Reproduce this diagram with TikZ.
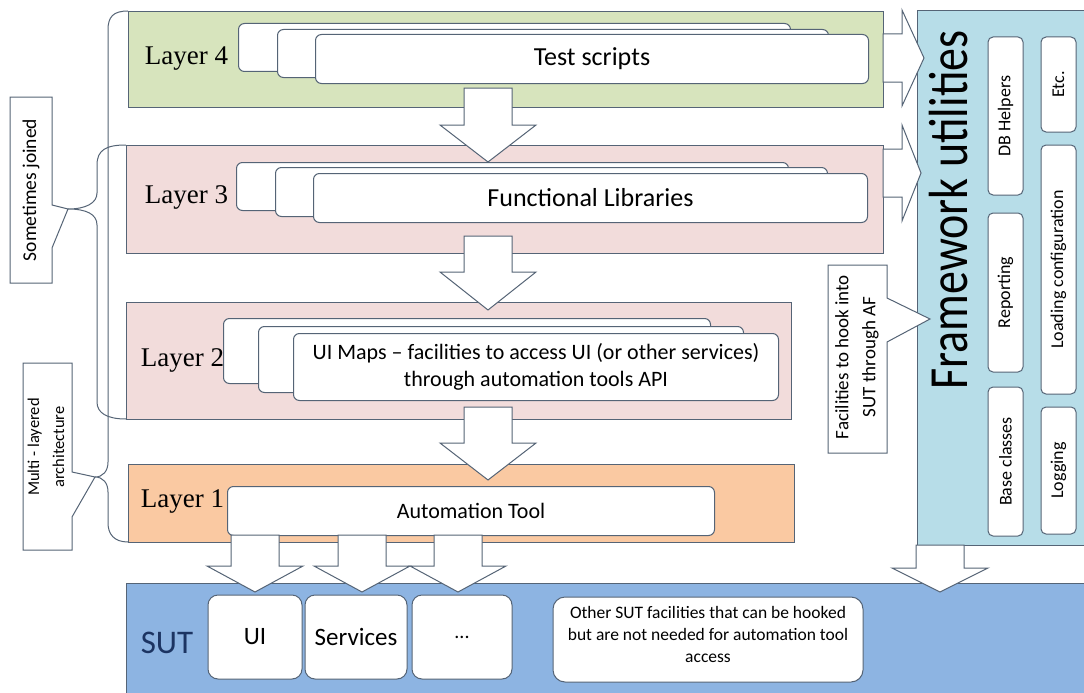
\documentclass[tikz,border=0pt]{standalone}
\usepackage{fontspec}
\setmainfont{Carlito}
\newfontfamily\layerfont{Liberation Serif}
\usepackage{graphicx}
\usetikzlibrary{positioning}

\definecolor{edge}{RGB}{85,100,118}
\definecolor{grn}{RGB}{215,228,189}
\definecolor{pnk}{RGB}{242,220,219}
\definecolor{peach}{RGB}{250,201,162}
\definecolor{sutblue}{RGB}{141,180,226}
\definecolor{fwblue}{RGB}{183,221,232}
\definecolor{navy}{RGB}{28,52,98}

% fat white arrows: x, shaft top, head base, tip
\newcommand{\blockdown}[4]{%
  \draw[arr] ({#1-24},#2) -- ({#1+24},#2) -- ({#1+24},#3) -- ({#1+48},#3)
    -- (#1,#4) -- ({#1-48},#3) -- ({#1-24},#3) -- cycle;}
% y, shaft start, head base, tip
\newcommand{\blockright}[4]{%
  \draw[arr] (#2,{#1-24}) -- (#3,{#1-24}) -- (#3,{#1-48}) -- (#4,#1)
    -- (#3,{#1+48}) -- (#3,{#1+24}) -- (#2,{#1+24}) -- cycle;}

\begin{document}
\begin{tikzpicture}[x=1pt, y=-1pt, line width=1pt,
	lay/.style={draw=edge, anchor=north west, inner sep=0pt},
	card/.style={draw=edge, fill=white, rounded corners=6pt, anchor=north west, inner sep=0pt, align=center},
	tab/.style={draw=edge, fill=white, rounded corners=5pt, rotate=90, inner sep=0pt, font=\fontsize{18}{20}\selectfont},
	arr/.style={draw=edge, fill=white, line join=miter},
	tag/.style={anchor=base west, font=\layerfont\fontsize{27}{30}\selectfont}]
	\fill[white] (0,0) rectangle (1084,693);
	\useasboundingbox (0,0) rectangle (1084,693);

	% braces on the left
	\draw[edge] (128,11) .. controls (113,11) and (108,17) .. (108,30) -- (108,462)
		.. controls (108,471) and (103,477) .. (95,477) .. controls (103,477) and (108,483) .. (108,492)
		-- (108,523) .. controls (108,534) and (114,542) .. (128,542);
	\draw[edge] (126,145) .. controls (106,145) and (97,150) .. (97,165) -- (97,193)
		.. controls (97,203) and (86,209) .. (68,209) .. controls (86,209) and (97,214) .. (97,225)
		-- (97,402) .. controls (97,413) and (107,419) .. (126,419);

	% layers
	\node[lay, fill=grn, minimum width=755pt, minimum height=96pt] (l4) at (128,11) {};
	\node[lay, fill=pnk, minimum width=757pt, minimum height=108pt] (l3) at (126,145) {};
	\node[lay, fill=pnk, minimum width=665pt, minimum height=117pt] (l2) at (126,302) {};
	\node[lay, fill=peach, minimum width=666pt, minimum height=78pt] (l1) at (128,464) {};
	\node[lay, fill=sutblue, minimum width=975pt, minimum height=120pt] (sut) at (126,583) {};
	\node[lay, fill=fwblue, minimum width=180pt, minimum height=535pt] (fw) at (917,10) {};

	\node[card, minimum width=552pt, minimum height=48pt] (ts1) at (238,23) {};
	\node[card, minimum width=551pt, minimum height=48pt] (ts2) at (277,29) {};
	\node[card, minimum width=553pt, minimum height=49pt, font=\fontsize{26}{30}\selectfont] (ts) at (315,34) {Test scripts};

	\node[card, minimum width=552pt, minimum height=48pt] (fl1) at (236,162) {};
	\node[card, minimum width=552pt, minimum height=49pt] (fl2) at (275,167) {};
	\node[card, minimum width=554pt, minimum height=49pt, font=\fontsize{26}{30}\selectfont] (fl) at (313,173) {Functional Libraries};

	\node[card, minimum width=487pt, minimum height=65pt] (um1) at (223,318) {};
	\node[card, minimum width=485pt, minimum height=66pt] (um2) at (258,326) {};
	\node[card, minimum width=485pt, minimum height=67pt, font=\fontsize{22}{27}\selectfont] (um) at (293,333)
		{UI Maps -- facilities to access UI (or other services)\\through automation tools API};

	\node[card, minimum width=487pt, minimum height=49pt, font=\fontsize{22}{25}\selectfont] (at) at (227,486) {Automation Tool};

	\node[tag] (t4) at (141,64) {Layer 4};
	\node[tag] (t3) at (141,203) {Layer 3};
	\node[tag] (t2) at (137,366) {Layer 2};
	\node[tag] (t1) at (137,507) {Layer 1};
	\node[anchor=base west, text=navy, font=\fontsize{33}{36}\selectfont] (st) at (137,653) {SUT};

	% arrows between the layers
	\blockdown{488}{88}{125}{162}
	\blockdown{488}{236}{272}{310}
	\blockdown{488}{407}{443}{480}
	\blockdown{255}{535}{566}{592}
	\blockdown{362}{535}{566}{592}
	\blockdown{458}{535}{566}{592}
	\blockdown{940}{545}{568}{592}
	\blockright{58}{883}{902}{924}
	\blockright{173}{883}{902}{921}

	% parts of the SUT
	\node[card, anchor=center, rounded corners=10pt, minimum width=94pt, minimum height=84pt, font=\fontsize{25}{28}\selectfont] (ui) at (255,637) {UI};
	\node[card, anchor=center, rounded corners=10pt, minimum width=102pt, minimum height=84pt, font=\fontsize{25}{28}\selectfont] (sv) at (356,637) {Services};
	\node[card, anchor=center, rounded corners=10pt, minimum width=100pt, minimum height=84pt, font=\fontsize{20}{28}\selectfont] (dt) at (462,637) {...};
	\node[card, anchor=center, rounded corners=12pt, minimum width=310pt, minimum height=85pt] (ot) at (708,639.5) {};
	\node[align=center, font=\fontsize{17.5}{22}\selectfont] (otx) at (708,634)
		{Other SUT facilities that can be hooked\\but are not needed for automation tool\\access};

	% framework utilities
	\node[rotate=90, anchor=base, font=\fontsize{46}{50}\selectfont] (fwt) at (967,210)
		{\scalebox{1}[1.2]{Framework utilities}};
	\node[tab, minimum width=158pt, minimum height=35pt] (dbh) at (1005.5,116) {DB Helpers};
	\node[tab, minimum width=159pt, minimum height=35pt] (rep) at (1005.5,292.5) {Reporting};
	\node[tab, minimum width=149pt, minimum height=35pt] (bc) at (1005.5,461.5) {Base classes};
	\node[tab, minimum width=95pt, minimum height=35pt] (etc) at (1058.5,84.5) {Etc.};
	\node[tab, minimum width=249pt, minimum height=35pt] (lc) at (1058.5,269.5) {Loading configuration};
	\node[tab, minimum width=127pt, minimum height=35pt] (lg) at (1058.5,470.5) {Logging};

	% callouts
	\draw[edge, fill=white] (828,265) -- (887,265) -- (887,298) -- (930,319) -- (887,342) -- (887,453) -- (828,453) -- cycle;
	\node[rotate=90, align=center, font=\fontsize{19}{27}\selectfont] (hk) at (857,357)
		{Facilities to hook into\\SUT through AF};
	\draw[edge, fill=white] (10,97) -- (52,97) -- (52,205) -- (68,209) -- (52,248) -- (52,283) -- (10,283) -- cycle;
	\node[rotate=90, font=\fontsize{19.5}{22}\selectfont] (sj) at (31,190) {Sometimes joined};
	\draw[edge, fill=white] (23,363) -- (72,363) -- (72,472) -- (95,477) -- (72,517) -- (72,550) -- (23,550) -- cycle;
	\node[rotate=90, align=center, font=\fontsize{16.5}{25}\selectfont] (ml) at (46,447)
		{Multi - layered\\architecture};
\end{tikzpicture}
\end{document}
